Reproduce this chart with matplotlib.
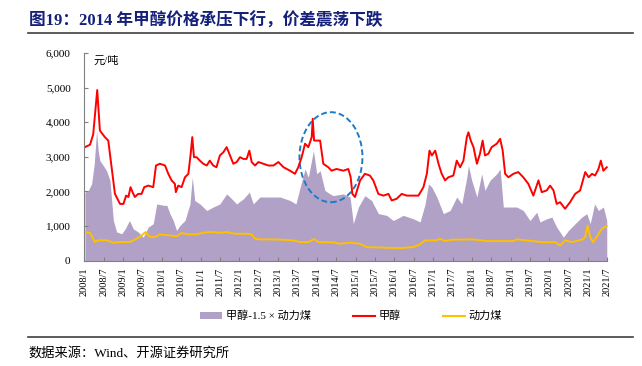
import matplotlib
matplotlib.use("Agg")
from matplotlib import pyplot as plt
from matplotlib.patches import Ellipse
from matplotlib.lines import Line2D
import matplotlib.dates as mdates
import pandas as pd
import numpy as np

plt.rcParams['font.family'] = ['Liberation Serif', 'Noto Sans CJK SC']
plt.rcParams['axes.unicode_minus'] = False

#####################################################################
# data (元/吨)
#####################################################################

# 甲醇 (methanol)
meoh_dates = ['2008-01-05', '2008-02-22', '2008-03-23', '2008-04-30', '2008-05-25', '2008-07-11',
              '2008-08-12', '2008-09-13', '2008-10-14', '2008-12-01', '2009-01-02', '2009-01-27',
              '2009-02-18', '2009-03-10', '2009-04-05', '2009-04-20', '2009-05-21', '2009-06-22',
              '2009-07-17', '2009-08-24', '2009-10-10', '2009-11-05', '2009-12-12', '2010-01-29',
              '2010-03-01', '2010-04-01', '2010-05-02', '2010-05-11', '2010-06-03', '2010-07-04',
              '2010-08-05', '2010-09-06', '2010-09-28', '2010-10-13', '2010-10-29', '2010-11-23',
              '2010-12-24', '2011-01-25', '2011-02-26', '2011-03-27', '2011-04-28', '2011-05-29',
              '2011-06-30', '2011-08-01', '2011-09-02', '2011-10-03', '2011-11-04', '2011-12-05',
              '2012-01-06', '2012-02-07', '2012-03-08', '2012-04-03', '2012-04-25', '2012-05-26',
              '2012-06-27', '2012-08-13', '2012-09-29', '2012-11-16', '2013-01-02', '2013-02-19',
              '2013-04-21', '2013-06-07', '2013-07-08', '2013-08-09', '2013-09-10', '2013-10-11',
              '2013-11-12', '2013-11-21', '2013-12-04', '2013-12-13', '2014-01-30', '2014-03-01',
              '2014-04-17', '2014-05-18', '2014-07-04', '2014-09-06', '2014-10-23', '2014-11-14',
              '2014-11-30', '2014-12-25', '2015-02-11', '2015-03-28', '2015-05-14', '2015-06-15',
              '2015-08-02', '2015-09-18', '2015-11-05', '2015-12-06', '2016-01-22', '2016-03-09',
              '2016-04-25', '2016-06-27', '2016-08-14', '2016-09-30', '2016-11-01', '2016-11-26',
              '2016-12-18', '2017-01-19', '2017-02-19', '2017-03-21', '2017-04-22', '2017-05-23',
              '2017-07-09', '2017-08-10', '2017-09-11', '2017-10-12', '2017-11-13', '2017-11-28',
              '2017-12-20', '2018-01-15', '2018-02-16', '2018-03-17', '2018-04-11', '2018-05-03',
              '2018-06-04', '2018-07-05', '2018-08-22', '2018-09-23', '2018-10-17', '2018-11-09',
              '2018-12-10', '2019-01-26', '2019-03-13', '2019-04-29', '2019-06-16', '2019-08-02',
              '2019-09-19', '2019-10-20', '2019-12-06', '2020-01-07', '2020-02-08', '2020-03-09',
              '2020-04-10', '2020-05-27', '2020-07-13', '2020-08-30', '2020-10-16', '2020-12-03',
              '2021-01-04', '2021-02-05', '2021-03-06', '2021-04-07', '2021-04-29', '2021-05-23',
              '2021-06-24']
meoh = [3280, 3350, 3650, 4930, 3760, 3570,
        3470, 2700, 1930, 1640, 1640, 1880,
        1840, 2125, 1930, 1840, 1930, 1930,
        2125, 2170, 2125, 2750, 2800, 2750,
        2510, 2320, 2220, 1980, 2170, 2125,
        2410, 2510, 3090, 3570, 2990, 2990,
        2890, 2800, 2750, 2890, 2750, 2700,
        3040, 3130, 3280, 3040, 2800, 2850,
        2990, 2940, 2940, 3180, 2850, 2750,
        2850, 2800, 2750, 2750, 2850, 2700,
        2600, 2510, 2700, 2990, 3380, 3280,
        3570, 4100, 3470, 3470, 3470, 2800,
        2700, 2600, 2650, 2600, 2650, 2410,
        1930, 1840, 2320, 2510, 2460, 2320,
        1930, 1880, 1930, 1740, 1790, 1930,
        1880, 1880, 1880, 2125, 2510, 3180,
        3040, 3180, 2800, 2510, 2320, 2410,
        2460, 2890, 2700, 2890, 3570, 3710,
        3470, 3280, 2800, 3090, 3470, 3040,
        3090, 3280, 3380, 3520, 3180, 2510,
        2410, 2510, 2560, 2410, 2220, 1880,
        2320, 1980, 2030, 2170, 2030, 1640,
        1690, 1500, 1690, 1930, 2030, 2560,
        2410, 2510, 2460, 2650, 2890, 2600,
        2700]

# 动力煤 (thermal coal)
coal_dates = ['2008-01-05', '2008-02-22', '2008-04-08', '2008-05-09', '2008-07-27', '2008-09-29',
              '2008-12-01', '2009-03-04', '2009-05-06', '2009-06-22', '2009-07-29', '2009-09-09',
              '2009-10-26', '2009-12-12', '2010-03-16', '2010-05-18', '2010-07-04', '2010-09-06',
              '2010-11-23', '2011-01-25', '2011-03-27', '2011-06-30', '2011-09-02', '2011-11-19',
              '2012-03-08', '2012-04-25', '2012-05-26', '2012-07-12', '2012-10-15', '2013-02-19',
              '2013-05-22', '2013-07-24', '2013-10-11', '2013-12-04', '2014-01-14', '2014-06-03',
              '2014-08-05', '2014-11-08', '2015-02-11', '2015-04-13', '2015-10-19', '2016-02-23',
              '2016-06-27', '2016-08-29', '2016-10-16', '2017-02-03', '2017-03-05', '2017-04-22',
              '2017-06-23', '2018-01-15', '2018-05-19', '2018-10-23', '2019-01-26', '2019-02-27',
              '2019-08-02', '2019-11-05', '2020-02-24', '2020-04-10', '2020-05-27', '2020-07-29',
              '2020-11-01', '2020-12-03', '2020-12-25', '2021-01-19', '2021-02-14', '2021-03-21',
              '2021-05-08', '2021-06-24']
coal = [827, 800, 540, 590, 590, 520,
        540, 540, 635, 730, 827, 683,
        683, 760, 730, 700, 800, 760,
        760, 808, 827, 808, 827, 779,
        779, 760, 635, 615, 615, 606,
        587, 538, 538, 625, 538, 530,
        490, 520, 490, 394, 375, 365,
        394, 471, 587, 587, 635, 567,
        606, 615, 567, 567, 567, 615,
        567, 530, 538, 442, 587, 538,
        606, 683, 1019, 683, 538, 683,
        923, 1000]

# 甲醇-1.5×动力煤 (spread)
spread_dates = ['2008-01-05', '2008-02-06', '2008-03-08', '2008-04-02', '2008-04-24', '2008-05-09',
                '2008-05-25', '2008-06-26', '2008-07-27', '2008-08-28', '2008-09-29', '2008-10-30',
                '2008-12-17', '2009-01-18', '2009-02-28', '2009-04-05', '2009-05-21', '2009-07-08',
                '2009-08-24', '2009-10-10', '2009-11-12', '2010-01-14', '2010-02-15', '2010-03-16',
                '2010-04-17', '2010-05-18', '2010-06-19', '2010-08-05', '2010-09-21', '2010-10-13',
                '2010-11-05', '2010-12-24', '2011-02-26', '2011-04-28', '2011-06-30', '2011-09-02',
                '2011-10-03', '2011-12-05', '2012-02-07', '2012-04-03', '2012-05-10', '2012-07-12',
                '2012-10-15', '2013-01-18', '2013-04-21', '2013-06-16', '2013-07-24', '2013-09-10',
                '2013-10-11', '2013-11-28', '2013-12-29', '2014-01-30', '2014-03-16', '2014-05-03',
                '2014-06-03', '2014-09-06', '2014-11-08', '2014-12-09', '2015-01-26', '2015-03-28',
                '2015-05-30', '2015-08-02', '2015-10-19', '2015-12-21', '2016-03-24', '2016-06-27',
                '2016-08-29', '2016-10-16', '2016-11-16', '2016-12-18', '2017-02-03', '2017-04-06',
                '2017-06-08', '2017-08-10', '2017-09-26', '2017-11-13', '2017-11-28', '2017-12-29',
                '2018-02-16', '2018-04-02', '2018-05-03', '2018-06-19', '2018-08-22', '2018-09-23',
                '2018-10-23', '2018-12-25', '2019-02-27', '2019-04-29', '2019-07-01', '2019-09-03',
                '2019-10-04', '2019-12-06', '2020-01-23', '2020-03-09', '2020-05-11', '2020-06-28',
                '2020-08-30', '2020-11-01', '2020-12-18', '2021-01-19', '2021-03-01', '2021-04-07',
                '2021-05-23', '2021-06-24']
spread = [1980, 2030, 2220, 2800, 3760, 3180,
          2890, 2750, 2600, 2320, 1160, 830,
          780, 920, 1160, 920, 830, 680,
          970, 1070, 1640, 1600, 1600, 1360,
          1160, 875, 1020, 1160, 1640, 2410,
          1740, 1640, 1450, 1550, 1640, 1930,
          1840, 1640, 1790, 1980, 1640, 1840,
          1840, 1840, 1740, 1640, 2100, 2650,
          2410, 3180, 2510, 2600, 2030, 1930,
          1880, 1930, 1840, 1070, 1550, 1880,
          1740, 1360, 1310, 1160, 1310, 1210,
          1120, 1640, 2220, 2125, 1840, 1360,
          1450, 1840, 1640, 2410, 2750, 2320,
          1840, 2510, 2030, 2320, 2510, 2650,
          1550, 1550, 1550, 1450, 1160, 1400,
          1120, 1210, 1260, 970, 680, 875,
          1070, 1260, 1360, 1070, 1640, 1450,
          1550, 1160]

tick_dates = pd.date_range('2008-01-01', '2021-07-01', freq='6MS')
y_ticks = [0, 1000, 2000, 3000, 4000, 5000, 6000]

#####################################################################
# plot
#####################################################################

fill_col = '#b1a1c6'
red_col = '#ff0000'
yel_col = '#ffc000'

fig = plt.figure(figsize=(6.42, 3.66), dpi=100)
ax = fig.add_axes([84.5/642, 1-260.7/366, 523/642, 207.7/366])

ax.fill_between(pd.to_datetime(spread_dates), 0, spread, color=fill_col, lw=0)
ax.plot(pd.to_datetime(meoh_dates), meoh, color=red_col, lw=1.4)
ax.plot(pd.to_datetime(coal_dates), coal, color=yel_col, lw=1.4)

ax.set_xlim(tick_dates[0], tick_dates[-1])
ax.set_ylim(0, 6000)
ax.set_xticks(tick_dates)
ax.set_xticklabels(['%d/%d' % (d.year, d.month) for d in tick_dates], rotation=90, fontsize=7.5)
ax.set_yticks(y_ticks)
ax.set_yticklabels(['{:,}'.format(v) for v in y_ticks], fontsize=8)
ax.tick_params(axis='both', direction='in', length=3, color='#808080', width=0.8)
ax.tick_params(axis='y', pad=10)
ax.tick_params(axis='x', pad=5)
for s in ['top', 'right']:
    ax.spines[s].set_visible(False)
for s in ['left', 'bottom']:
    ax.spines[s].set_color('#808080')
    ax.spines[s].set_linewidth(0.8)

ax.text(0.018, 0.985, '元/吨', transform=ax.transAxes, fontsize=8, va='top', ha='left')

# dashed circle around the 2014 drop
circ = Ellipse((mdates.date2num(pd.Timestamp('2014-05-12')), 2990), 594, 2600,
               fill=False, ec='#1f7ac8', ls=(0, (3, 1.6)), lw=1.4)
ax.add_patch(circ)

# legend
handles = [plt.Rectangle((0, 0), 1, 1, fc=fill_col, ec='none'),
           Line2D([], [], color=red_col, lw=1.5),
           Line2D([], [], color=yel_col, lw=1.5)]
labels = ['甲醇-1.5 × 动力煤', '甲醇', '动力煤']
fig.legend(handles, labels, loc='center', bbox_to_anchor=(351/642, 1-316/366), ncol=3,
           frameon=False, fontsize=8, handlelength=2.0, handleheight=0.6,
           handletextpad=0.3, columnspacing=3.8)

# title, rules and source
fig.text(29/642, 1-21.5/366, '图19：2014 年甲醇价格承压下行，价差震荡下跌', fontsize=12,
         fontweight='bold', color='#14207a', va='center', ha='left')
fig.add_artist(Line2D([28/642, 633/642], [1-33.3/366, 1-33.3/366], color='#404040', lw=1.2))
fig.add_artist(Line2D([28/642, 633/642], [1-337.3/366, 1-337.3/366], color='#404040', lw=1.2))
fig.text(28/642, 1-353/366, '数据来源：Wind、开源证券研究所', fontsize=9.5, va='center', ha='left')

fig.savefig('out.png', dpi=100)
